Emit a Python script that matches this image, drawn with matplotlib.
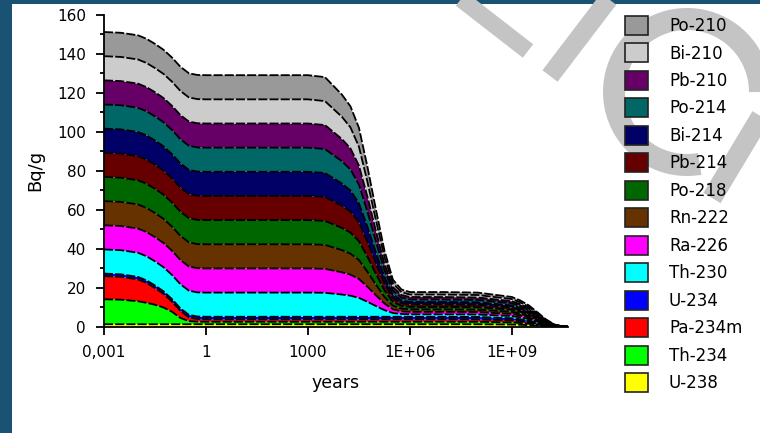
import matplotlib
matplotlib.use("Agg")
import matplotlib.pyplot as plt
import numpy as np
from matplotlib.patches import Arc, Rectangle, Patch
from matplotlib.ticker import MultipleLocator, NullLocator, FixedLocator, FixedFormatter

plt.rcParams['font.family'] = ['DejaVu Sans']

# ---------------- data ----------------
years = [0.001, 0.00316, 0.01, 0.0178, 0.0316, 0.0562, 0.1, 0.178, 0.316, 0.562,
         1, 10, 100, 1000, 3160, 10000, 17800, 31600, 56200, 100000,
         178000, 316000, 562000, 1e6, 1e7, 1e8, 1e9, 1.78e9, 3.16e9, 5.62e9,
         1e10, 1.78e10, 3.16e10, 4.47e10]

u238 = [1.27, 1.27, 1.27, 1.27, 1.27, 1.27, 1.27, 1.27, 1.27, 1.27,
        1.27, 1.27, 1.27, 1.27, 1.27, 1.27, 1.27, 1.27, 1.27, 1.27,
        1.27, 1.27, 1.27, 1.27, 1.27, 1.25, 1.09, 0.96, 0.78, 0.53,
        0.27, 0.08, 0.01, 0.0]
th234 = [12.8, 12.6, 11.8, 11.0, 10.0, 8.6, 6.4, 3.2, 1.6, 1.3,
         1.27, 1.27, 1.27, 1.27, 1.27, 1.27, 1.27, 1.27, 1.27, 1.27,
         1.27, 1.27, 1.27, 1.27, 1.27, 1.25, 1.09, 0.96, 0.78, 0.53,
         0.27, 0.08, 0.01, 0.0]
pa234m = [11.9, 11.7, 11.2, 10.2, 8.6, 7.0, 5.2, 3.6, 1.9, 1.35,
          1.27, 1.27, 1.27, 1.27, 1.27, 1.27, 1.27, 1.27, 1.27, 1.27,
          1.27, 1.27, 1.27, 1.27, 1.27, 1.25, 1.09, 0.96, 0.78, 0.53,
          0.27, 0.08, 0.01, 0.0]
u234 = [1.3, 1.3, 1.3, 1.3, 1.3, 1.3, 1.3, 1.3, 1.3, 1.3,
        1.3, 1.3, 1.3, 1.3, 1.3, 1.3, 1.3, 1.3, 1.3, 1.3,
        1.3, 1.3, 1.3, 1.27, 1.27, 1.25, 1.09, 0.96, 0.78, 0.53,
        0.27, 0.08, 0.01, 0.0]
th230 = [12.4, 12.4, 12.4, 12.4, 12.4, 12.4, 12.4, 12.4, 12.4, 12.4,
         12.4, 12.4, 12.4, 12.4, 12.3, 11.4, 10.8, 9.7, 7.7, 5.5,
         3.4, 1.9, 1.4, 1.27, 1.27, 1.25, 1.09, 0.96, 0.78, 0.53,
         0.27, 0.08, 0.01, 0.0]
ra226 = [12.4, 12.4, 12.4, 12.4, 12.4, 12.4, 12.4, 12.4, 12.4, 12.4,
         12.4, 12.4, 12.4, 12.4, 12.3, 11.4, 10.8, 9.7, 7.7, 5.5,
         3.4, 1.9, 1.4, 1.27, 1.27, 1.25, 1.09, 0.96, 0.78, 0.53,
         0.27, 0.08, 0.01, 0.0]
rn222 = [12.4, 12.4, 12.4, 12.4, 12.4, 12.4, 12.4, 12.4, 12.4, 12.4,
         12.4, 12.4, 12.4, 12.4, 12.3, 11.4, 10.8, 9.7, 7.7, 5.5,
         3.4, 1.9, 1.4, 1.27, 1.27, 1.25, 1.09, 0.96, 0.78, 0.53,
         0.27, 0.08, 0.01, 0.0]
po218 = [12.4, 12.4, 12.4, 12.4, 12.4, 12.4, 12.4, 12.4, 12.4, 12.4,
         12.4, 12.4, 12.4, 12.4, 12.3, 11.4, 10.8, 9.7, 7.7, 5.5,
         3.4, 1.9, 1.4, 1.27, 1.27, 1.25, 1.09, 0.96, 0.78, 0.53,
         0.27, 0.08, 0.01, 0.0]
pb214 = [12.4, 12.4, 12.4, 12.4, 12.4, 12.4, 12.4, 12.4, 12.4, 12.4,
         12.4, 12.4, 12.4, 12.4, 12.3, 11.4, 10.8, 9.7, 7.7, 5.5,
         3.4, 1.9, 1.4, 1.27, 1.27, 1.25, 1.09, 0.96, 0.78, 0.53,
         0.27, 0.08, 0.01, 0.0]
bi214 = [12.4, 12.4, 12.4, 12.4, 12.4, 12.4, 12.4, 12.4, 12.4, 12.4,
         12.4, 12.4, 12.4, 12.4, 12.3, 11.4, 10.8, 9.7, 7.7, 5.5,
         3.4, 1.9, 1.4, 1.27, 1.27, 1.25, 1.09, 0.96, 0.78, 0.53,
         0.27, 0.08, 0.01, 0.0]
po214 = [12.4, 12.4, 12.4, 12.4, 12.4, 12.4, 12.4, 12.4, 12.4, 12.4,
         12.4, 12.4, 12.4, 12.4, 12.3, 11.4, 10.8, 9.7, 7.7, 5.5,
         3.4, 1.9, 1.4, 1.27, 1.27, 1.25, 1.09, 0.96, 0.78, 0.53,
         0.27, 0.08, 0.01, 0.0]
pb210 = [12.4, 12.4, 12.4, 12.4, 12.4, 12.4, 12.4, 12.4, 12.4, 12.4,
         12.4, 12.4, 12.4, 12.4, 12.3, 11.4, 10.8, 9.7, 7.7, 5.5,
         3.4, 1.9, 1.4, 1.27, 1.27, 1.25, 1.09, 0.96, 0.78, 0.53,
         0.27, 0.08, 0.01, 0.0]
bi210 = [12.4, 12.4, 12.4, 12.4, 12.4, 12.4, 12.4, 12.4, 12.4, 12.4,
         12.4, 12.4, 12.4, 12.4, 12.3, 11.4, 10.8, 9.7, 7.7, 5.5,
         3.4, 1.9, 1.4, 1.27, 1.27, 1.25, 1.09, 0.96, 0.78, 0.53,
         0.27, 0.08, 0.01, 0.0]
po210 = [12.4, 12.4, 12.4, 12.4, 12.4, 12.4, 12.4, 12.4, 12.4, 12.4,
         12.4, 12.4, 12.4, 12.4, 12.3, 11.4, 10.8, 9.7, 7.7, 5.5,
         3.4, 1.9, 1.4, 1.27, 1.27, 1.25, 1.09, 0.96, 0.78, 0.53,
         0.27, 0.08, 0.01, 0.0]

nuclides = ["U-238", "Th-234", "Pa-234m", "U-234", "Th-230", "Ra-226", "Rn-222",
            "Po-218", "Pb-214", "Bi-214", "Po-214", "Pb-210", "Bi-210", "Po-210"]
series = [u238, th234, pa234m, u234, th230, ra226, rn222,
          po218, pb214, bi214, po214, pb210, bi210, po210]
colors = ["#ffff00", "#00ff00", "#ff0000", "#0000ff", "#00ffff", "#ff00ff", "#663300",
          "#006600", "#660000", "#000066", "#006666", "#660066", "#cccccc", "#999999"]

x_ticks = [1e-3, 1, 1e3, 1e6, 1e9]
x_ticklabels = ["0,001", "1", "1000", "1E+06", "1E+09"]
y_ticks = [0, 20, 40, 60, 80, 100, 120, 140, 160]

# ---------------- figure ----------------
W, H = 760, 433
fig = plt.figure(figsize=(W / 100, H / 100), dpi=100)
fig.patch.set_facecolor("white")

# background layer in pixel coordinates (border + faint watermark)
bg = fig.add_axes([0, 0, 1, 1], zorder=-5)
bg.set_xlim(0, W)
bg.set_ylim(H, 0)
bg.axis("off")
px = lambda p: p * 72 / 100
wm = "#c4c4c4"
bg.plot([452, 528], [-8, 51], color=wm, lw=px(17), solid_capstyle="butt")
bg.plot([614, 550], [-8, 76], color=wm, lw=px(19), solid_capstyle="butt")
bg.add_patch(Arc((687, 92), 146, 146, theta1=80, theta2=360, color=wm, lw=px(22)))
bg.plot([778, 712], [88, 198], color=wm, lw=px(20), solid_capstyle="butt")
bg.add_patch(Rectangle((0, 0), 12, H, color="#1a5273", lw=0))
bg.add_patch(Rectangle((0, 0), W, 4, color="#1a5273", lw=0))

# main axes
x0, x1, ybot, ytop = 104, 568, 326.7, 15
ax = fig.add_axes([x0 / W, 1 - ybot / H, (x1 - x0) / W, (ybot - ytop) / H])
ax.patch.set_alpha(0)

ax.stackplot(years, *series, colors=colors, linewidth=0, labels=nuclides)
cum = np.cumsum(np.array(series), axis=0)
for c in cum:
    ax.plot(years, c, color="black", lw=1.3, ls=(0, (5, 1.2)))

ax.set_xscale("log")
ax.set_xlim(1e-3, 4.47e10)
ax.set_ylim(0, 160)

ax.xaxis.set_major_locator(FixedLocator(x_ticks))
ax.xaxis.set_major_formatter(FixedFormatter(x_ticklabels))
ax.xaxis.set_minor_locator(NullLocator())
ax.yaxis.set_major_locator(FixedLocator(y_ticks))
ax.yaxis.set_minor_locator(MultipleLocator(10))

for s in ["top", "right"]:
    ax.spines[s].set_visible(False)
for s in ["left", "bottom"]:
    ax.spines[s].set_linewidth(1.3)
ax.tick_params(axis="both", which="major", direction="out", length=6, width=1.3,
               labelsize=11, pad=7)
ax.tick_params(axis="y", which="minor", direction="out", length=3, width=1.3)

ax.set_ylabel("Bq/g", fontsize=13, va="center")
ax.yaxis.set_label_coords((35 - x0) / (x1 - x0), 0.5)
ax.set_xlabel("years", fontsize=12.5, va="center")
ax.xaxis.set_label_coords(0.5, (ybot - 383) / (ybot - ytop))

handles = [Patch(facecolor=c, edgecolor="#222222", lw=1.2) for c in colors][::-1]
fs = 12
em = fs * 100 / 72
fig.legend(handles, nuclides[::-1], loc="upper left",
           bbox_to_anchor=(625 / W, 1 - 16 / H), bbox_transform=fig.transFigure,
           frameon=False, fontsize=fs, borderpad=0, borderaxespad=0,
           handlelength=23 / em, handleheight=23 / em, labelspacing=8.4 / em,
           handletextpad=21 / em)

fig.savefig("out.png", dpi=100)
